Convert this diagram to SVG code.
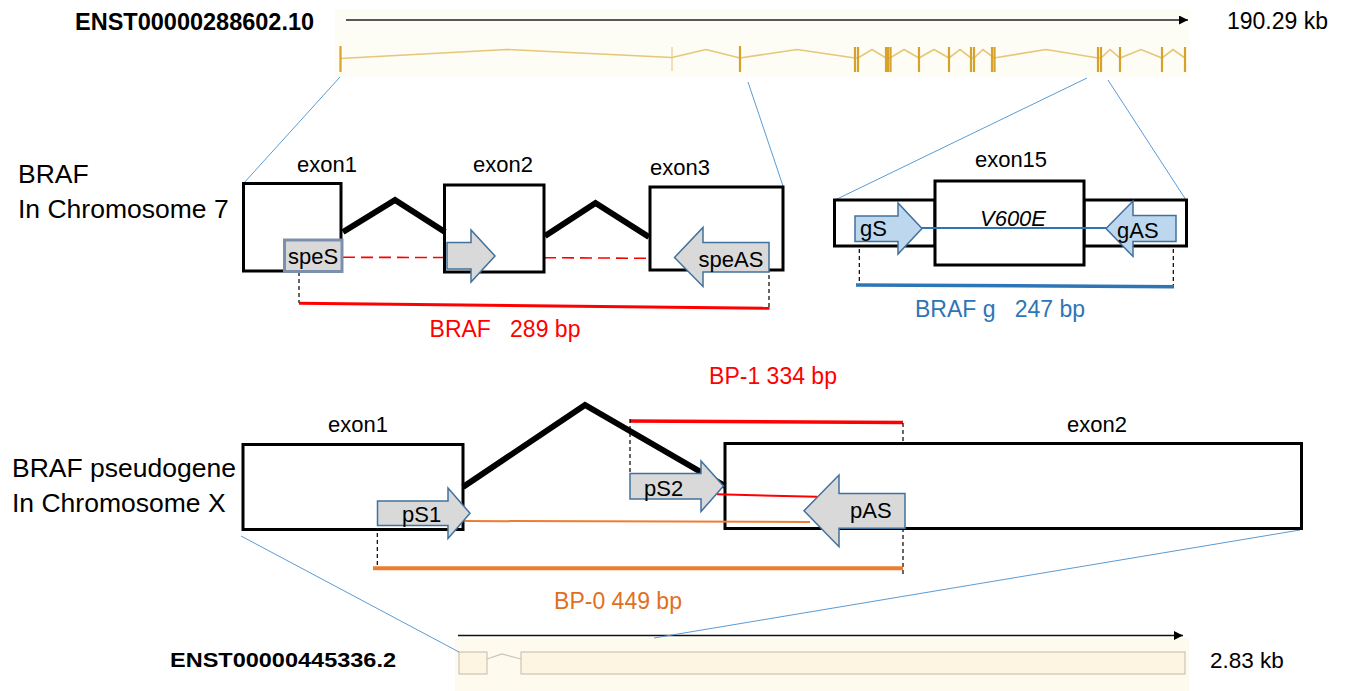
<svg xmlns="http://www.w3.org/2000/svg" width="1346" height="691" viewBox="0 0 1346 691">
<style>
text{font-family:"Liberation Sans",Arial,sans-serif;fill:#000}
.lbl{font-size:26.5px}
.ex{font-size:22px;text-anchor:middle}
.pr{font-size:22px}
.box{fill:#fff;stroke:#000;stroke-width:3}
.intr{fill:none;stroke:#000;stroke-width:6}
.garr{fill:#D9D9D9;stroke:#41719C;stroke-width:1.5}
.barr{fill:#BDD7EE;stroke:#41719C;stroke-width:1.5}
.zoom{stroke:#5B9BD5;stroke-width:1;fill:none}
.vd{stroke:#000;stroke-width:1.2;stroke-dasharray:4 3;fill:none}
.tick{stroke:#D6A22B;stroke-width:2.2}
.tickt{stroke:#E3C27A;stroke-width:1}
</style>
<defs>
<marker id="ah" viewBox="0 0 10 10" refX="10" refY="5" markerWidth="10" markerHeight="9" markerUnits="userSpaceOnUse" orient="auto">
<path d="M0,0 L10,5 L0,10 z" fill="#000"/>
</marker>
</defs>

<!-- top transcript track -->
<g id="top-track">
<rect x="335" y="9" width="855" height="68" fill="#FDFCF5"/>
<text x="75" y="30" font-size="23.5" font-weight="bold">ENST00000288602.10</text>
<line x1="346" y1="20" x2="1188" y2="20" stroke="#222" stroke-width="1.6" marker-end="url(#ah)"/>
<text x="1227" y="29" font-size="23">190.29 kb</text>
<polyline fill="none" stroke="#E6C778" stroke-width="1.6" points="340,58.5 507,49.5 672,57.5 706,49.5 740,58 797,49.5 855,58 858,58 872,49.5 886,58 890,58 904,49.5 919,58 934,49.5 949,58 960,49.5 971,58 974,58 983,49.5 994,58 1046,49.5 1098,58 1101,58 1110,49.5 1120,58 1141,49.5 1162,58 1173,49.5 1185,58"/>
<line class="tick" x1="340.5" y1="46" x2="340.5" y2="72" stroke-width="3"/>
<line class="tickt" x1="672" y1="47" x2="672" y2="71"/>
<line class="tick" x1="740" y1="46" x2="740" y2="72" stroke-width="2.6"/>
<line class="tick" x1="855" y1="47" x2="855" y2="72" stroke-width="1.8"/>
<line class="tick" x1="858" y1="47" x2="858" y2="72" stroke-width="1.8"/>
<line class="tick" x1="886" y1="47" x2="886" y2="72" stroke-width="1.3"/>
<line class="tick" x1="888" y1="47" x2="888" y2="72" stroke-width="1.3"/>
<line class="tick" x1="890.5" y1="47" x2="890.5" y2="72" stroke-width="1.8"/>
<line class="tick" x1="919" y1="47" x2="919" y2="72" stroke-width="1.8"/>
<line class="tick" x1="949" y1="47" x2="949" y2="72" stroke-width="1.8"/>
<line class="tick" x1="971" y1="47" x2="971" y2="72" stroke-width="1.3"/>
<line class="tick" x1="974" y1="47" x2="974" y2="72" stroke-width="1.8"/>
<line class="tick" x1="992" y1="47" x2="992" y2="72" stroke-width="1.3"/>
<line class="tick" x1="994.5" y1="47" x2="994.5" y2="72" stroke-width="1.8"/>
<line class="tick" x1="1098" y1="47" x2="1098" y2="72" stroke-width="1.8"/>
<line class="tick" x1="1101" y1="47" x2="1101" y2="72" stroke-width="1.8"/>
<line class="tick" x1="1120" y1="47" x2="1120" y2="72" stroke-width="1.8"/>
<line class="tick" x1="1162" y1="47" x2="1162" y2="72" stroke-width="1.8"/>
<line class="tick" x1="1185" y1="47" x2="1185" y2="72" stroke-width="1.8"/>
</g>

<!-- bottom transcript track -->
<g id="bottom-track">
<rect x="455" y="638" width="734" height="53" fill="#FEFAEE"/>
<text x="170" y="667" font-size="21" font-weight="bold" textLength="226" lengthAdjust="spacingAndGlyphs">ENST00000445336.2</text>
<line x1="458" y1="635.5" x2="1183" y2="635.5" stroke="#111" stroke-width="1.6" marker-end="url(#ah)"/>
<rect x="459" y="652" width="28" height="22" fill="#FDF5E2" stroke="#C9C5B6" stroke-width="1.2"/>
<rect x="521" y="652" width="664" height="22" fill="#FDF5E2" stroke="#C9C5B6" stroke-width="1.2"/>
<polyline points="487,659 502,654 521,659" fill="none" stroke="#C9C5B6" stroke-width="1.2"/>
<text x="1210" y="668" font-size="22.5">2.83 kb</text>
</g>

<!-- side labels -->
<g id="labels">
<text class="lbl" x="18" y="183">BRAF</text>
<text class="lbl" x="18" y="218">In Chromosome 7</text>
<text class="lbl" x="12" y="477">BRAF pseudogene</text>
<text class="lbl" x="12" y="512">In Chromosome X</text>
</g>

<!-- connectors -->
<g id="connectors">
<line class="zoom" x1="340" y1="77" x2="243" y2="184"/>
<line class="zoom" x1="748" y1="82" x2="783" y2="186"/>
<line class="zoom" x1="1087" y1="78" x2="835" y2="200"/>
<line class="zoom" x1="1108" y1="80" x2="1186" y2="200"/>
<line class="zoom" x1="241" y1="536" x2="459" y2="652"/>
<line class="zoom" x1="1300" y1="530" x2="654" y2="638"/>

<!-- BRAF amplicon -->
<line x1="343" y1="257.3" x2="446" y2="257.5" stroke="#FF0000" stroke-width="1.6" stroke-dasharray="12 6"/>
<line x1="495" y1="257.5" x2="544" y2="257.7" stroke="#FF0000" stroke-width="1.6"/>
<line x1="544" y1="257.7" x2="650" y2="258.3" stroke="#FF0000" stroke-width="1.6" stroke-dasharray="12 6"/>
<line x1="650" y1="258.3" x2="675" y2="260" stroke="#FF0000" stroke-width="1.6"/>
<line class="vd" x1="299" y1="258" x2="299" y2="303"/>
<line class="vd" x1="769" y1="268" x2="769" y2="308"/>
<line x1="299" y1="303.3" x2="769.5" y2="308.3" stroke="#FF0000" stroke-width="3"/>

<!-- BRAF g amplicon -->
<line class="vd" x1="859.3" y1="242" x2="859.3" y2="285"/>
<line class="vd" x1="1173.3" y1="242" x2="1173.3" y2="287"/>
<line x1="856" y1="285" x2="1174" y2="286.7" stroke="#2E75B6" stroke-width="3.5"/>

<!-- pseudogene amplicons -->
<line x1="630" y1="421" x2="903" y2="422.5" stroke="#FF0000" stroke-width="3.5"/>
<line class="vd" x1="630" y1="419" x2="630" y2="473"/>
<line class="vd" x1="903" y1="423" x2="903" y2="577"/>
<line class="vd" x1="377.3" y1="526" x2="377.3" y2="568"/>
<line x1="373" y1="568.2" x2="903" y2="568.2" stroke="#ED7D31" stroke-width="4"/>
</g>

<!-- BRAF chr7 exons -->
<g id="braf-exon1">
<rect class="box" x="243.5" y="183.5" width="97.5" height="87.5"/>
<text class="ex" x="327" y="172">exon1</text>
</g>
<g id="braf-exon2">
<rect class="box" x="444.5" y="185" width="99.5" height="87"/>
<text class="ex" x="503" y="172">exon2</text>
</g>
<g id="braf-exon3">
<rect class="box" x="650" y="187" width="133" height="83"/>
<text class="ex" x="680" y="175">exon3</text>
</g>
<g id="braf-introns">
<polyline class="intr" points="343,232 395,200 445,232"/>
<polyline class="intr" points="545,236 595.5,203 649,237"/>
</g>
<g id="braf-primers">
<rect x="284.5" y="240" width="57.5" height="31.5" fill="#D9D9D9" stroke="#7C90AE" stroke-width="3"/>
<text class="pr" x="313" y="263.5" text-anchor="middle">speS</text>
<polygon class="garr" points="447,242.5 471,242.5 471,230 495,256 471,282 471,269 447,269"/>
<polygon class="garr" points="674.5,257.5 703,227.5 703,242.5 769,242.5 769,272 703,272 703,286.5"/>
<text class="pr" x="731" y="266.5" text-anchor="middle">speAS</text>
</g>
<g id="braf-amplicon-label">
<text x="505" y="337" font-size="23" text-anchor="middle" style="fill:#FF0000;white-space:pre">BRAF   289 bp</text>
</g>

<!-- exon15 -->
<g id="exon15">
<rect class="box" x="834.5" y="200" width="100.5" height="46"/>
<rect class="box" x="1084" y="200" width="102.5" height="46"/>
<rect class="box" x="935" y="181" width="149" height="84"/>
<text class="ex" x="1011" y="167">exon15</text>
<text class="ex" x="1013" y="226" font-style="italic">V600E</text>
<line x1="921" y1="228" x2="1106" y2="228" stroke="#2E75B6" stroke-width="2"/>
<polygon class="barr" points="855,216 898,216 898,203 922,228.5 898,254 898,241.5 855,241.5"/>
<text class="pr" x="860" y="236">gS</text>
<polygon class="barr" points="1106,228.5 1133,201 1133,215.5 1176,215.5 1176,241.5 1133,241.5 1133,256.5"/>
<text class="pr" x="1117" y="238">gAS</text>
<text x="1000" y="317" font-size="23" text-anchor="middle" style="fill:#2E75B6;white-space:pre">BRAF g   247 bp</text>
</g>

<!-- pseudogene -->
<g id="pseudo-exon1">
<rect class="box" x="243" y="444.5" width="220" height="85"/>
<text class="ex" x="358" y="432">exon1</text>
</g>
<g id="pseudo-exon2">
<rect class="box" x="725" y="443.5" width="576.5" height="85"/>
<text class="ex" x="1097" y="432">exon2</text>
</g>
<g id="pseudo-intron">
<polyline class="intr" points="463,487 585,405 725,486"/>
</g>
<g id="pseudo-primers">
<line x1="465" y1="521" x2="810" y2="522" stroke="#ED7D31" stroke-width="2"/>
<line x1="717" y1="494.3" x2="817" y2="496.8" stroke="#FF0000" stroke-width="2"/>
<polygon class="garr" points="377.5,501 448,501 448,488 470,513.3 448,538.5 448,525.5 377.5,525.5"/>
<text class="pr" x="402" y="522">pS1</text>
<polygon class="garr" points="630,473.5 701,473.5 701,461 723.5,486 701,511.5 701,499 630,499"/>
<text class="pr" x="644" y="496">pS2</text>
<polygon class="garr" points="804,510.8 839,475 839,493.5 905,493.5 905,528.3 839,528.3 839,546.7"/>
<text class="pr" x="850" y="518">pAS</text>
</g>
<g id="pseudo-amplicon-labels">
<text x="773" y="384" font-size="23" text-anchor="middle" style="fill:#FF0000">BP-1 334 bp</text>
<text x="618" y="609" font-size="23" text-anchor="middle" style="fill:#E0701F">BP-0 449 bp</text>
</g>
</svg>
